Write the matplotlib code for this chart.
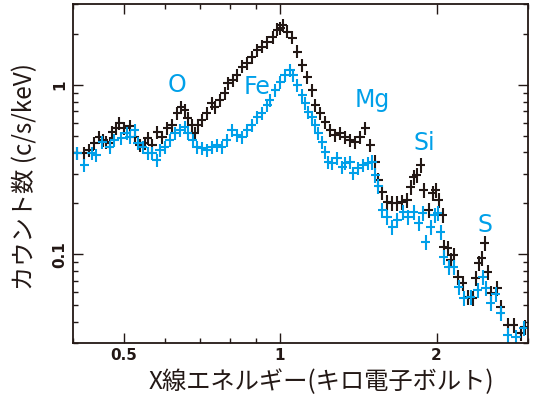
import numpy as np
import matplotlib.pyplot as plt
from matplotlib.ticker import LogLocator, NullFormatter
from matplotlib.font_manager import FontProperties

plt.rcParams['font.family'] = ['Noto Sans CJK JP', 'DejaVu Sans']

# black spectrum (keV, c/s/keV)
e_black = np.array([0.407, 0.420, 0.430, 0.439, 0.449, 0.457, 0.463, 0.470, 0.476, 0.484,
                    0.491, 0.502, 0.514, 0.525, 0.537, 0.549, 0.556, 0.568, 0.581, 0.594,
                    0.607, 0.620, 0.634, 0.645, 0.656, 0.664, 0.676, 0.685, 0.694, 0.707,
                    0.723, 0.739, 0.749, 0.766, 0.783, 0.794, 0.812, 0.826, 0.845, 0.864,
                    0.883, 0.903, 0.923, 0.944, 0.969, 0.987, 1.000, 1.013, 1.032, 1.055,
                    1.078, 1.103, 1.127, 1.153, 1.168, 1.195, 1.221, 1.249, 1.277, 1.306,
                    1.335, 1.365, 1.396, 1.427, 1.459, 1.492, 1.526, 1.546, 1.573, 1.608,
                    1.643, 1.680, 1.718, 1.757, 1.782, 1.806, 1.830, 1.863, 1.888, 1.931,
                    1.966, 1.992, 2.019, 2.055, 2.064, 2.101, 2.129, 2.158, 2.197, 2.246,
                    2.296, 2.348, 2.379, 2.411, 2.444, 2.476, 2.509, 2.543, 2.617, 2.659,
                    2.740, 2.815, 2.906, 2.960])
c_black = np.array([0.396, 0.396, 0.412, 0.454, 0.492, 0.473, 0.460, 0.454, 0.527, 0.557,
                    0.596, 0.557, 0.572, 0.492, 0.442, 0.454, 0.486, 0.442, 0.527, 0.492,
                    0.557, 0.580, 0.683, 0.741, 0.711, 0.638, 0.580, 0.520, 0.580, 0.621,
                    0.683, 0.782, 0.741, 0.815, 0.897, 1.028, 1.070, 1.146, 1.280, 1.350,
                    1.465, 1.610, 1.680, 1.797, 1.920, 2.120, 2.170, 2.260, 2.060, 1.900,
                    1.570, 1.310, 1.115, 0.934, 0.761, 0.683, 0.604, 0.542, 0.506, 0.520,
                    0.492, 0.473, 0.460, 0.492, 0.557, 0.442, 0.350, 0.274, 0.233, 0.203,
                    0.200, 0.200, 0.203, 0.209, 0.249, 0.286, 0.293, 0.336, 0.239, 0.182,
                    0.230, 0.239, 0.209, 0.170, 0.110, 0.109, 0.0921, 0.0986, 0.0731, 0.0674,
                    0.0557, 0.0549, 0.0721, 0.0885, 0.0947, 0.116, 0.0782, 0.0588, 0.0629, 0.0486,
                    0.0380, 0.0380, 0.0341, 0.0370])

# blue spectrum
e_blue = np.array([0.407, 0.420, 0.434, 0.443, 0.455, 0.470, 0.480, 0.495, 0.507, 0.514,
                   0.525, 0.532, 0.544, 0.556, 0.568, 0.579, 0.587, 0.600, 0.613, 0.627,
                   0.641, 0.656, 0.664, 0.679, 0.691, 0.707, 0.723, 0.739, 0.756, 0.773,
                   0.790, 0.808, 0.826, 0.845, 0.864, 0.883, 0.903, 0.923, 0.944, 0.956,
                   0.978, 1.000, 1.022, 1.045, 1.060, 1.078, 1.103, 1.117, 1.132, 1.153,
                   1.168, 1.184, 1.206, 1.221, 1.238, 1.260, 1.289, 1.317, 1.335, 1.365,
                   1.383, 1.414, 1.446, 1.479, 1.505, 1.526, 1.546, 1.573, 1.608, 1.643,
                   1.680, 1.727, 1.766, 1.806, 1.847, 1.880, 1.905, 1.948, 1.983, 2.010,
                   2.037, 2.064, 2.110, 2.158, 2.207, 2.256, 2.327, 2.401, 2.455, 2.487,
                   2.543, 2.601, 2.659, 2.740, 2.843, 2.940])
c_blue = np.array([0.396, 0.336, 0.396, 0.385, 0.460, 0.430, 0.473, 0.486, 0.520, 0.492,
                   0.542, 0.454, 0.430, 0.396, 0.396, 0.360, 0.412, 0.430, 0.473, 0.520,
                   0.542, 0.564, 0.520, 0.473, 0.430, 0.424, 0.412, 0.430, 0.442, 0.430,
                   0.473, 0.542, 0.506, 0.492, 0.542, 0.580, 0.647, 0.683, 0.761, 0.815,
                   0.934, 1.042, 1.146, 1.227, 1.146, 1.000, 0.873, 0.782, 0.692, 0.647,
                   0.580, 0.520, 0.460, 0.401, 0.350, 0.345, 0.370, 0.327, 0.345, 0.350,
                   0.301, 0.323, 0.336, 0.345, 0.350, 0.293, 0.253, 0.182, 0.166, 0.145,
                   0.159, 0.177, 0.166, 0.177, 0.153, 0.175, 0.118, 0.145, 0.170, 0.175,
                   0.135, 0.096, 0.0838, 0.0838, 0.0638, 0.0549, 0.0557, 0.0612, 0.0731, 0.0629,
                   0.0513, 0.058, 0.0448, 0.0332, 0.0323, 0.0365])

# element line labels
line_names = ["O", "Fe", "Mg", "Si", "S"]
line_e = [0.634, 0.903, 1.505, 1.897, 2.476]
line_c = [1.0, 0.97, 0.815, 0.454, 0.149]

x_major = [0.5, 1, 2]
x_labels = ["0.5", "1", "2"]
y_major = [0.1, 1]
y_labels = ["0.1", "1"]

BLACK = "#231815"
BLUE = "#00a0e9"


def draw(ax, e, c, color):
    fx = 10 ** (4.5 / 518)
    fy = np.where(e < 1.5, 10 ** (6.5 / 169), 10 ** (7.5 / 169))
    xerr = [e - e / fx, e * fx - e]
    yerr = [c - c / fy, c * fy - c]
    ax.errorbar(e, c, xerr=xerr, yerr=yerr, fmt="none", ecolor=color,
                elinewidth=1.5, capsize=0)


fig = plt.figure(figsize=(5.34, 3.95), dpi=100)
ax = fig.add_axes([0.137, 0.132, 0.852, 0.857])
ax.set_xscale("log")
ax.set_yscale("log")

draw(ax, e_black, c_black, BLACK)
draw(ax, e_blue, c_blue, BLUE)

for name, x, y in zip(line_names, line_e, line_c):
    ax.text(x, y, name, color=BLUE, fontsize=17, ha="center", va="center",
            family=["Liberation Sans Narrow", "DejaVu Sans"])

ax.set_xlim(0.4, 3.0)
ax.set_ylim(0.03, 3.0)

ax.xaxis.set_minor_locator(LogLocator(subs=np.arange(2, 10)))
ax.xaxis.set_minor_formatter(NullFormatter())
ax.yaxis.set_minor_locator(LogLocator(subs=np.arange(2, 10)))
ax.yaxis.set_minor_formatter(NullFormatter())
ax.set_xticks(x_major)
ax.set_yticks(y_major)

ax.tick_params(which="both", direction="in", top=True, right=True, width=1.0,
               color=BLACK)
ax.tick_params(which="major", length=7, pad=4)
ax.tick_params(which="minor", length=3.5)

tick_fp = FontProperties(family="DejaVu Sans", weight="bold", size=11)
ax.set_xticklabels(x_labels, fontproperties=tick_fp, color=BLACK)
ax.set_yticklabels(y_labels, fontproperties=tick_fp, color=BLACK,
                   rotation=90, va="center")

for s in ax.spines.values():
    s.set_linewidth(1.3)
    s.set_color(BLACK)

ax.set_xlabel("X線エネルギー(キロ電子ボルト)", fontsize=17.5, color=BLACK)
ax.set_ylabel("カウント数 (c/s/keV)", fontsize=17.5, color=BLACK)
ax.xaxis.set_label_coords(0.545, -0.078)
ax.yaxis.set_label_coords(-0.077, 0.49)

fig.savefig("out.png", dpi=100)
